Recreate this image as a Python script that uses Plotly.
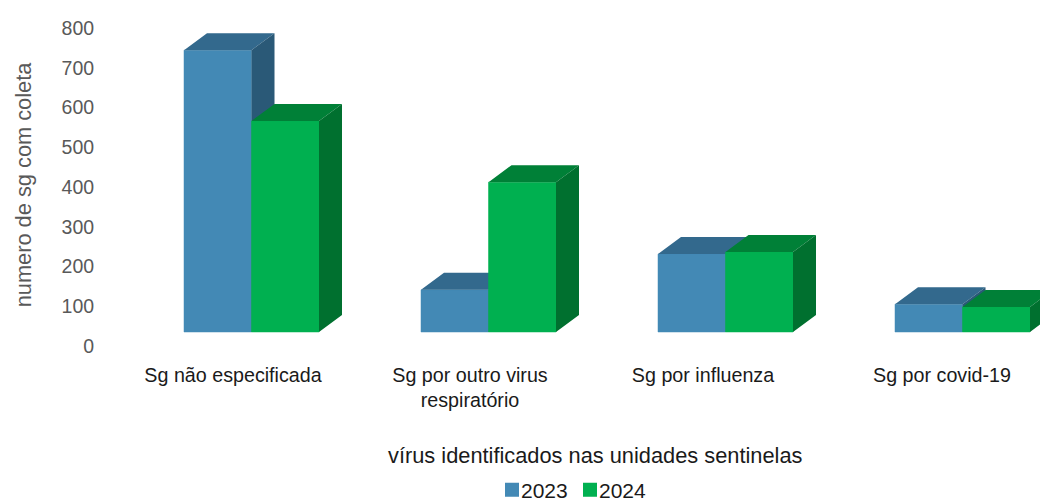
import plotly.graph_objects as go

categories = ["Sg não especificada", "Sg por outro virus<br>respiratório", "Sg por influenza", "Sg por covid-19"]
tick_labels = [0, 100, 200, 300, 400, 500, 600, 700, 800]
values_2023 = [709, 106, 196, 70]
values_2024 = [531, 377, 201, 63]

W, H = 1040, 501
L, R, T, B = 100, 0, 24, 12
AXIS_BOTTOM = 346.0
PX_PER_CAT = 237.0
PX_PER_UNIT = 0.3975
paper_h = H - T - B
paper_bottom = H - B
y_domain = [(paper_bottom - AXIS_BOTTOM) / paper_h, 1]
x_range = [(L - 233) / PX_PER_CAT, (W - R - 233) / PX_PER_CAT]
y_range = [0, (AXIS_BOTTOM - T) / PX_PER_UNIT]
GROUP_SHIFT = 18.5 / PX_PER_CAT
BAR_W = 67.5 / PX_PER_CAT
DX = 23 / PX_PER_CAT
DY = 17 / PX_PER_UNIT
BASE = 14 / PX_PER_UNIT
LABEL_NUDGE = [0, 0, -4 / PX_PER_CAT, -2 / PX_PER_CAT]

FONT = "Liberation Sans"
GREY = "#595959"


def add_series(fig, name, vals, sign, front, top, side, xa, ya):
    lefts = [i + GROUP_SHIFT - (BAR_W if sign < 0 else 0) for i in range(len(vals))]
    fig.add_trace(go.Bar(
        name=name, x=[l + BAR_W / 2 for l in lefts], y=vals, base=[BASE] * len(vals),
        width=BAR_W, marker=dict(color=front, line=dict(color=front, width=0.5)),
        xaxis=xa, yaxis=ya, showlegend=True, hoverinfo="y+name"))
    tx, ty, sx, sy = [], [], [], []
    for l, v in zip(lefts, vals):
        r = l + BAR_W
        h = BASE + v
        tx += [l, r, r + DX, l + DX, l, None]
        ty += [h, h, h + DY, h + DY, h, None]
        sx += [r, r + DX, r + DX, r, r, None]
        sy += [BASE, BASE + DY, h + DY, h, BASE, None]
    for xs, ys, c in ((tx, ty, top), (sx, sy, side)):
        fig.add_trace(go.Scatter(x=xs, y=ys, mode="lines", fill="toself", fillcolor=c,
                                 line=dict(width=0), xaxis=xa, yaxis=ya,
                                 showlegend=False, hoverinfo="skip"))


fig = go.Figure()
add_series(fig, "2023", values_2023, -1, "#4389B5", "#33698D", "#2A5977", "x", "y")
add_series(fig, "2024", values_2024, 1, "#00B050", "#008037", "#00702F", "x2", "y2")

fig.update_layout(
    width=W, height=H, autosize=False, barmode="overlay",
    margin=dict(l=L, r=R, t=T, b=B),
    paper_bgcolor="white", plot_bgcolor="white",
    font=dict(family=FONT, size=19, color=GREY),
    xaxis=dict(range=x_range, tickmode="array", tickvals=[i + n for i, n in enumerate(LABEL_NUDGE)],
               ticktext=categories,
               showgrid=False, zeroline=False, showline=False, ticks="outside", ticklen=11,
               tickcolor="rgba(0,0,0,0)", tickfont=dict(family=FONT, size=19.7, color="#1a1a1a")),
    yaxis=dict(domain=y_domain, range=y_range, tickmode="array", tickvals=tick_labels, showgrid=False,
               zeroline=False, showline=False, ticks="outside", ticklen=1, tickcolor="rgba(0,0,0,0)",
               tickfont=dict(family=FONT, size=19.5, color=GREY),
               title=dict(text="numero de sg com coleta", standoff=23,
                          font=dict(family=FONT, size=21.8, color=GREY))),
    xaxis2=dict(overlaying="x", matches="x", visible=False),
    yaxis2=dict(overlaying="y", matches="y", visible=False, domain=y_domain),
    legend=dict(orientation="h", xanchor="left", yanchor="middle",
                x=(492 - L) / (W - L - R), y=(paper_bottom - 478) / paper_h,
                font=dict(family=FONT, size=21, color="#1a1a1a"),
                entrywidth=33, entrywidthmode="pixels", itemclick=False, itemdoubleclick=False,
                bgcolor="rgba(0,0,0,0)"),
    annotations=[dict(text="vírus identificados nas unidades sentinelas", xref="paper", yref="paper",
                      x=(595 - L) / (W - L - R), y=(paper_bottom - 455) / paper_h,
                      xanchor="center", yanchor="middle",
                      showarrow=False, font=dict(family=FONT, size=21.8, color="#1a1a1a"))],
)

post = """
document.body.style.margin = '0';
document.querySelectorAll('.legendtext').forEach(function (t) {
  t.setAttribute('x', +t.getAttribute('x') - 11);
});
document.querySelectorAll('.legendpoints path').forEach(function (p) {
  p.style.strokeWidth = '2px';
});
document.querySelectorAll('g.legend').forEach(function (g) {
  var m = /translate\\(([-\\d.]+),\\s*([-\\d.]+)\\)/.exec(g.getAttribute('transform'));
  if (m) g.setAttribute('transform', 'translate(' + m[1] + ',' + (+m[2] + 12) + ')');
});
"""
fig.write_html("out.html", post_script=post, config={"displayModeBar": False})
